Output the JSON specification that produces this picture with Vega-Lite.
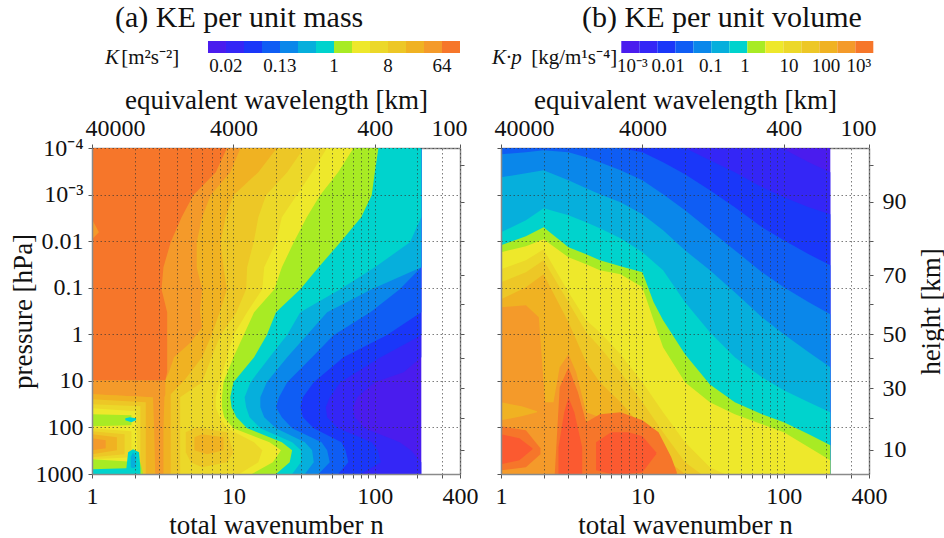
{
  "$schema": "https://vega.github.io/schema/vega-lite/v6.json",
  "background": "white",
  "padding": {"left": 8, "top": 3, "right": 0, "bottom": 0},
  "config": {
    "font": "Liberation Serif",
    "view": {"stroke": "#8a8a8a", "strokeWidth": 1},
    "axis": {"labelFont": "Liberation Serif", "titleFont": "Liberation Serif", "labelColor": "#111", "titleColor": "#111", "titleFontWeight": "normal", "labelFontSize": 24, "titleFontSize": 27, "domainColor": "#8a8a8a", "domainWidth": 1.5, "tickColor": "#555", "tickSize": 4, "gridColor": "#333", "gridDash": [1.5, 2.5], "gridWidth": 0.8, "gridOpacity": 0.8, "labelOverlap": false, "labelFlush": false},
    "title": {"font": "Liberation Serif", "fontSize": 30, "fontWeight": "normal", "color": "#111"},
    "text": {"font": "Liberation Serif", "color": "#111"}
  },
  "datasets": {
    "bars": [
      {"i":0,"j":1,"k":0},{"i":1,"j":2,"k":1},{"i":2,"j":3,"k":2},{"i":3,"j":4,"k":3},{"i":4,"j":5,"k":4},{"i":5,"j":6,"k":5},{"i":6,"j":7,"k":6},
      {"i":7,"j":8,"k":7},{"i":8,"j":9,"k":8},{"i":9,"j":10,"k":9},{"i":10,"j":11,"k":10},{"i":11,"j":12,"k":11},{"i":12,"j":13,"k":12},{"i":13,"j":14,"k":13}
    ],
    "labA": [{"x":1,"t":"0.02"},{"x":4,"t":"0.13"},{"x":7,"t":"1"},{"x":10,"t":"8"},{"x":13,"t":"64"}],
    "labB": [{"x":0.62,"t":"10⁻³"},{"x":2.6,"t":"0.01"},{"x":4.98,"t":"0.1"},{"x":6.87,"t":"1"},{"x":9.32,"t":"10"},{"x":11.37,"t":"100"},{"x":13.2,"t":"10³"}],
    "L1": [
      {"g":"L00","k":0,"p":0.0001,"a":1,"b":213},{"g":"L00","k":0,"p":1000,"a":1,"b":213},
      {"g":"L01","k":1,"p":0.0001,"a":1,"b":213},{"g":"L01","k":1,"p":3.12,"a":1,"b":213},{"g":"L01","k":1,"p":6.55,"a":1,"b":160},{"g":"L01","k":1,"p":10.7,"a":1,"b":100},{"g":"L01","k":1,"p":22.5,"a":1,"b":75},{"g":"L01","k":1,"p":37,"a":1,"b":70},{"g":"L01","k":1,"p":60.6,"a":1,"b":72},{"g":"L01","k":1,"p":104,"a":1,"b":85},{"g":"L01","k":1,"p":208,"a":1,"b":150},{"g":"L01","k":1,"p":310,"a":1,"b":180},{"g":"L01","k":1,"p":561,"a":1,"b":213},{"g":"L01","k":1,"p":1000,"a":1,"b":213},
      {"g":"L02","k":2,"p":0.0001,"a":1,"b":213},{"g":"L02","k":2,"p":1.05,"a":1,"b":213},{"g":"L02","k":2,"p":3.12,"a":1,"b":110},{"g":"L02","k":2,"p":10.7,"a":1,"b":57},{"g":"L02","k":2,"p":22.5,"a":1,"b":48},{"g":"L02","k":2,"p":37,"a":1,"b":45},{"g":"L02","k":2,"p":60.6,"a":1,"b":46},{"g":"L02","k":2,"p":104,"a":1,"b":55},{"g":"L02","k":2,"p":208,"a":1,"b":95},{"g":"L02","k":2,"p":310,"a":1,"b":105},{"g":"L02","k":2,"p":561,"a":1,"b":110},{"g":"L02","k":2,"p":1000,"a":1,"b":80},
      {"g":"L03","k":3,"p":0.0001,"a":1,"b":213},{"g":"L03","k":3,"p":0.337,"a":1,"b":213},{"g":"L03","k":3,"p":1.05,"a":1,"b":121},{"g":"L03","k":3,"p":3.12,"a":1,"b":60},{"g":"L03","k":3,"p":10.7,"a":1,"b":37},{"g":"L03","k":3,"p":22.5,"a":1,"b":31},{"g":"L03","k":3,"p":37,"a":1,"b":29.7},{"g":"L03","k":3,"p":60.6,"a":1,"b":31},{"g":"L03","k":3,"p":104,"a":1,"b":37},{"g":"L03","k":3,"p":208,"a":1,"b":58},{"g":"L03","k":3,"p":310,"a":1,"b":62},{"g":"L03","k":3,"p":561,"a":1,"b":65},{"g":"L03","k":3,"p":1000,"a":1,"b":55},
      {"g":"L04","k":4,"p":0.0001,"a":1,"b":213},{"g":"L04","k":4,"p":0.0364,"a":1,"b":213},{"g":"L04","k":4,"p":0.108,"a":1,"b":150},{"g":"L04","k":4,"p":0.337,"a":1,"b":93},{"g":"L04","k":4,"p":1.05,"a":1,"b":51},{"g":"L04","k":4,"p":3.12,"a":1,"b":36},{"g":"L04","k":4,"p":10.7,"a":1,"b":24},{"g":"L04","k":4,"p":22.5,"a":1,"b":21},{"g":"L04","k":4,"p":37,"a":1,"b":20},{"g":"L04","k":4,"p":60.6,"a":1,"b":22},{"g":"L04","k":4,"p":104,"a":1,"b":26},{"g":"L04","k":4,"p":208,"a":1,"b":42},{"g":"L04","k":4,"p":310,"a":1,"b":46},{"g":"L04","k":4,"p":561,"a":1,"b":48},{"g":"L04","k":4,"p":1000,"a":1,"b":40},
      {"g":"L05","k":5,"p":0.0001,"a":1,"b":213},{"g":"L05","k":5,"p":0.0364,"a":1,"b":213},{"g":"L05","k":5,"p":0.108,"a":1,"b":95},{"g":"L05","k":5,"p":0.337,"a":1,"b":46},{"g":"L05","k":5,"p":1.05,"a":1,"b":33},{"g":"L05","k":5,"p":3.12,"a":1,"b":24},{"g":"L05","k":5,"p":10.7,"a":1,"b":17.2},{"g":"L05","k":5,"p":22.5,"a":1,"b":15.5},{"g":"L05","k":5,"p":37,"a":1,"b":15.5},{"g":"L05","k":5,"p":60.6,"a":1,"b":16.5},{"g":"L05","k":5,"p":104,"a":1,"b":20},{"g":"L05","k":5,"p":208,"a":1,"b":32},{"g":"L05","k":5,"p":310,"a":1,"b":36},{"g":"L05","k":5,"p":561,"a":1,"b":37},{"g":"L05","k":5,"p":1000,"a":1,"b":32},
      {"g":"L06","k":6,"p":0.0001,"a":1,"b":213},{"g":"L06","k":6,"p":0.00307,"a":1,"b":213},{"g":"L06","k":6,"p":0.0106,"a":1,"b":177},{"g":"L06","k":6,"p":0.0364,"a":1,"b":100},{"g":"L06","k":6,"p":0.108,"a":1,"b":57},{"g":"L06","k":6,"p":0.337,"a":1,"b":29.7},{"g":"L06","k":6,"p":1.05,"a":1,"b":23.9},{"g":"L06","k":6,"p":3.12,"a":1,"b":18},{"g":"L06","k":6,"p":10.7,"a":1,"b":13.2},{"g":"L06","k":6,"p":22.5,"a":1,"b":12},{"g":"L06","k":6,"p":37,"a":1,"b":12.3},{"g":"L06","k":6,"p":60.6,"a":1,"b":13},{"g":"L06","k":6,"p":104,"a":1,"b":15.5},{"g":"L06","k":6,"p":208,"a":1,"b":26},{"g":"L06","k":6,"p":310,"a":1,"b":30},{"g":"L06","k":6,"p":561,"a":1,"b":30},{"g":"L06","k":6,"p":1000,"a":1,"b":26},
      {"g":"L07","k":7,"p":0.0001,"a":1,"b":106},{"g":"L07","k":7,"p":0.00033,"a":1,"b":100},{"g":"L07","k":7,"p":0.00104,"a":1,"b":95},{"g":"L07","k":7,"p":0.00307,"a":1,"b":80},{"g":"L07","k":7,"p":0.0106,"a":1,"b":57},{"g":"L07","k":7,"p":0.0364,"a":1,"b":40},{"g":"L07","k":7,"p":0.108,"a":1,"b":29.7},{"g":"L07","k":7,"p":0.337,"a":1,"b":20},{"g":"L07","k":7,"p":1.05,"a":1,"b":17.2},{"g":"L07","k":7,"p":3.12,"a":1,"b":14},{"g":"L07","k":7,"p":10.7,"a":1,"b":10},{"g":"L07","k":7,"p":22.5,"a":1,"b":9.5},{"g":"L07","k":7,"p":37,"a":1,"b":9.7},{"g":"L07","k":7,"p":60.6,"a":1,"b":10.5},{"g":"L07","k":7,"p":104,"a":1,"b":12.5},{"g":"L07","k":7,"p":208,"a":1,"b":22},{"g":"L07","k":7,"p":310,"a":1,"b":26},{"g":"L07","k":7,"p":561,"a":1,"b":25},{"g":"L07","k":7,"p":1000,"a":1,"b":20},
      {"g":"L08","k":8,"p":0.0001,"a":1,"b":70.7},{"g":"L08","k":8,"p":0.00033,"a":1,"b":55},{"g":"L08","k":8,"p":0.00104,"a":1,"b":41},{"g":"L08","k":8,"p":0.00307,"a":1,"b":33},{"g":"L08","k":8,"p":0.0106,"a":1,"b":26.7},{"g":"L08","k":8,"p":0.0364,"a":1,"b":22},{"g":"L08","k":8,"p":0.108,"a":1,"b":19.5},{"g":"L08","k":8,"p":0.337,"a":1,"b":14},{"g":"L08","k":8,"p":1.05,"a":1,"b":11.8},{"g":"L08","k":8,"p":3.12,"a":1,"b":10},{"g":"L08","k":8,"p":10.7,"a":1,"b":8.5},{"g":"L08","k":8,"p":22.5,"a":1,"b":8.3},{"g":"L08","k":8,"p":37,"a":1,"b":8.3},{"g":"L08","k":8,"p":60.6,"a":1,"b":8.6},{"g":"L08","k":8,"p":104,"a":1,"b":10},{"g":"L08","k":8,"p":208,"a":1,"b":18},{"g":"L08","k":8,"p":310,"a":1,"b":21.7},{"g":"L08","k":8,"p":561,"a":1,"b":19},{"g":"L08","k":8,"p":1000,"a":1,"b":13.5},
      {"g":"L09","k":9,"p":0.0001,"a":1,"b":45.8},{"g":"L09","k":9,"p":0.00033,"a":1,"b":36},{"g":"L09","k":9,"p":0.00104,"a":1,"b":28},{"g":"L09","k":9,"p":0.00307,"a":1,"b":22},{"g":"L09","k":9,"p":0.0106,"a":1,"b":20},{"g":"L09","k":9,"p":0.0364,"a":1,"b":16.5},{"g":"L09","k":9,"p":0.108,"a":1,"b":16},{"g":"L09","k":9,"p":0.337,"a":1,"b":12.5},{"g":"L09","k":9,"p":1.05,"a":1,"b":10},{"g":"L09","k":9,"p":3.12,"a":1,"b":9},{"g":"L09","k":9,"p":10.7,"a":1,"b":8},{"g":"L09","k":9,"p":22.5,"a":1,"b":7.5},{"g":"L09","k":9,"p":37,"a":1,"b":7.5},{"g":"L09","k":9,"p":60.6,"a":1,"b":8},{"g":"L09","k":9,"p":104,"a":1,"b":9},{"g":"L09","k":9,"p":208,"a":1,"b":14},{"g":"L09","k":9,"p":310,"a":1,"b":16},{"g":"L09","k":9,"p":561,"a":1,"b":15},{"g":"L09","k":9,"p":1000,"a":1,"b":11},
      {"g":"L10","k":10,"p":0.0001,"a":1,"b":31.5},{"g":"L10","k":10,"p":0.00033,"a":1,"b":24},{"g":"L10","k":10,"p":0.00104,"a":1,"b":17},{"g":"L10","k":10,"p":0.00307,"a":1,"b":15},{"g":"L10","k":10,"p":0.0106,"a":1,"b":13.9},{"g":"L10","k":10,"p":0.0364,"a":1,"b":12.5},{"g":"L10","k":10,"p":0.108,"a":1,"b":12.3},{"g":"L10","k":10,"p":0.337,"a":1,"b":10.5},{"g":"L10","k":10,"p":1.05,"a":1,"b":8.1},{"g":"L10","k":10,"p":3.12,"a":1,"b":7},{"g":"L10","k":10,"p":10.7,"a":1,"b":6},{"g":"L10","k":10,"p":22.5,"a":1,"b":4.2},{"g":"L10","k":10,"p":1000,"a":1,"b":4.2},
      {"g":"L11","k":11,"p":0.0001,"a":1,"b":20.3},{"g":"L11","k":11,"p":0.00033,"a":1,"b":15},{"g":"L11","k":11,"p":0.00104,"a":1,"b":10},{"g":"L11","k":11,"p":0.00307,"a":1,"b":8.8},{"g":"L11","k":11,"p":0.0106,"a":1,"b":8.1},{"g":"L11","k":11,"p":0.0364,"a":1,"b":8.5},{"g":"L11","k":11,"p":0.108,"a":1,"b":9},{"g":"L11","k":11,"p":0.337,"a":1,"b":8},{"g":"L11","k":11,"p":1.05,"a":1,"b":7},{"g":"L11","k":11,"p":3.12,"a":1,"b":6},{"g":"L11","k":11,"p":9.72,"a":1,"b":4.5},{"g":"L11","k":11,"p":19.4,"a":1,"b":3.6},{"g":"L11","k":11,"p":1000,"a":1,"b":3.6},
      {"g":"L12","k":12,"p":0.0001,"a":1,"b":11.2},{"g":"L12","k":12,"p":0.00033,"a":1,"b":9.5},{"g":"L12","k":12,"p":0.00104,"a":1,"b":6.9},{"g":"L12","k":12,"p":0.00307,"a":1,"b":6},{"g":"L12","k":12,"p":0.0106,"a":1,"b":5.5},{"g":"L12","k":12,"p":0.0364,"a":1,"b":5.5},{"g":"L12","k":12,"p":0.108,"a":1,"b":6},{"g":"L12","k":12,"p":0.337,"a":1,"b":5.8},{"g":"L12","k":12,"p":0.708,"a":1,"b":6},{"g":"L12","k":12,"p":1.49,"a":1,"b":5},{"g":"L12","k":12,"p":3.12,"a":1,"b":3.8},{"g":"L12","k":12,"p":6.55,"a":1,"b":3.5},{"g":"L12","k":12,"p":9.72,"a":1,"b":3.3},{"g":"L12","k":12,"p":19.4,"a":1,"b":3.3},{"g":"L12","k":12,"p":22.5,"a":2.7,"b":3.25},{"g":"L12","k":12,"p":104,"a":2.75,"b":3.2},{"g":"L12","k":12,"p":1000,"a":2.8,"b":3.2},
      {"g":"L13","k":13,"p":0.0001,"a":1,"b":9},{"g":"L13","k":13,"p":0.00033,"a":1,"b":7.5},{"g":"L13","k":13,"p":0.00104,"a":1,"b":5.2},{"g":"L13","k":13,"p":0.00307,"a":1,"b":4.3},{"g":"L13","k":13,"p":0.0106,"a":1,"b":3.6},{"g":"L13","k":13,"p":0.0364,"a":1,"b":3.2},{"g":"L13","k":13,"p":0.108,"a":1,"b":3.1},{"g":"L13","k":13,"p":0.337,"a":1,"b":3.4},{"g":"L13","k":13,"p":1.05,"a":1,"b":3.4},{"g":"L13","k":13,"p":3.12,"a":1,"b":3.4},{"g":"L13","k":13,"p":6.55,"a":1,"b":3.4},{"g":"L13","k":13,"p":9.72,"a":1,"b":3.3}
    ],
    "L2": [
      {"g":"L20","k":12,"p":0.0034,"a":1,"b":1},{"g":"L20","k":12,"p":0.00645,"a":1,"b":1.12},{"g":"L20","k":12,"p":0.0091,"a":1,"b":1},
      {"g":"L21","k":11,"p":19.4,"a":1,"b":1},{"g":"L21","k":11,"p":22.5,"a":1,"b":2.6},{"g":"L21","k":11,"p":1000,"a":1,"b":2.6},
      {"g":"L22","k":10,"p":24.9,"a":1,"b":1},{"g":"L22","k":10,"p":28.8,"a":1,"b":2.4},{"g":"L22","k":10,"p":1000,"a":1,"b":2.4},
      {"g":"L23","k":9,"p":31.8,"a":1,"b":1},{"g":"L23","k":9,"p":35.2,"a":1,"b":2.2},{"g":"L23","k":9,"p":1000,"a":1,"b":2.2},
      {"g":"L24","k":8,"p":38.8,"a":1,"b":1},{"g":"L24","k":8,"p":45,"a":1,"b":2.05},{"g":"L24","k":8,"p":1000,"a":1,"b":2.1},
      {"g":"L25","k":7,"p":52.2,"a":1,"b":1},{"g":"L25","k":7,"p":54.8,"a":1,"b":1.9},{"g":"L25","k":7,"p":90,"a":1,"b":1.9},{"g":"L25","k":7,"p":94.6,"a":1,"b":1},
      {"g":"L26","k":9,"p":104,"a":1,"b":1},{"g":"L26","k":9,"p":121,"a":1,"b":1.9},{"g":"L26","k":9,"p":438,"a":1,"b":1.9},{"g":"L26","k":9,"p":483,"a":1,"b":1},
      {"g":"L27","k":10,"p":121,"a":1,"b":1},{"g":"L27","k":10,"p":140,"a":1,"b":1.7},{"g":"L27","k":10,"p":377,"a":1,"b":1.7},{"g":"L27","k":10,"p":438,"a":1,"b":1},
      {"g":"L28","k":11,"p":140,"a":1,"b":1},{"g":"L28","k":11,"p":163,"a":1,"b":1.5},{"g":"L28","k":11,"p":310,"a":1,"b":1.5},{"g":"L28","k":11,"p":377,"a":1,"b":1},
      {"g":"L29","k":12,"p":171,"a":1,"b":1},{"g":"L29","k":12,"p":189,"a":1,"b":1.25},{"g":"L29","k":12,"p":280,"a":1,"b":1.25},{"g":"L29","k":12,"p":310,"a":1,"b":1},
      {"g":"L30","k":7,"p":483,"a":1,"b":1},{"g":"L30","k":7,"p":561,"a":1,"b":2.2},{"g":"L30","k":7,"p":1000,"a":1,"b":2.3},
      {"g":"L31","k":6,"p":294,"a":1.95,"b":1.95},{"g":"L31","k":6,"p":342,"a":1.8,"b":2.15},{"g":"L31","k":6,"p":754,"a":1.75,"b":2.2},{"g":"L31","k":6,"p":792,"a":1,"b":2.2},{"g":"L31","k":6,"p":1000,"a":1,"b":2.2},
      {"g":"L32","k":6,"p":60.6,"a":1.85,"b":1.85},{"g":"L32","k":6,"p":63.6,"a":1.72,"b":2.05},{"g":"L32","k":6,"p":70.3,"a":1.72,"b":2.05},{"g":"L32","k":6,"p":77.6,"a":1.9,"b":1.9},
      {"g":"L33","k":5,"p":342,"a":1.95,"b":1.95},{"g":"L33","k":5,"p":438,"a":1.88,"b":2.05},{"g":"L33","k":5,"p":718,"a":1.88,"b":2.05},{"g":"L33","k":5,"p":754,"a":1.95,"b":1.95},
      {"g":"L34","k":10,"p":99,"a":5.5,"b":5.5},{"g":"L34","k":10,"p":127,"a":4.6,"b":9},{"g":"L34","k":10,"p":342,"a":4.6,"b":10},{"g":"L34","k":10,"p":561,"a":5,"b":9},{"g":"L34","k":10,"p":718,"a":6,"b":6},
      {"g":"L35","k":11,"p":140,"a":6,"b":6},{"g":"L35","k":11,"p":163,"a":5.3,"b":8.5},{"g":"L35","k":11,"p":310,"a":5.3,"b":8.5},{"g":"L35","k":11,"p":377,"a":6.5,"b":6.5}
    ],
    "R1": [
      {"g":"R00","k":0,"n":1,"t":0.0001,"u":1000},{"g":"R00","k":0,"n":213,"t":0.0001,"u":1000},
      {"g":"R01","k":1,"n":1,"t":0.0001,"u":1000},{"g":"R01","k":1,"n":100,"t":0.0001,"u":1000},{"g":"R01","k":1,"n":110,"t":0.000124,"u":1000},{"g":"R01","k":1,"n":150,"t":0.000203,"u":1000},{"g":"R01","k":1,"n":213,"t":0.00033,"u":1000},
      {"g":"R02","k":2,"n":1,"t":0.0001,"u":1000},{"g":"R02","k":2,"n":20,"t":0.0001,"u":1000},{"g":"R02","k":2,"n":30,"t":0.000184,"u":1000},{"g":"R02","k":2,"n":45,"t":0.00033,"u":1000},{"g":"R02","k":2,"n":70,"t":0.000697,"u":1000},{"g":"R02","k":2,"n":100,"t":0.00114,"u":1000},{"g":"R02","k":2,"n":150,"t":0.00187,"u":1000},{"g":"R02","k":2,"n":213,"t":0.00265,"u":1000},
      {"g":"R03","k":3,"n":1,"t":0.0001,"u":1000},{"g":"R03","k":3,"n":7,"t":0.0001,"u":1000},{"g":"R03","k":3,"n":10,"t":0.000124,"u":1000},{"g":"R03","k":3,"n":14,"t":0.000203,"u":1000},{"g":"R03","k":3,"n":20,"t":0.000366,"u":1000},{"g":"R03","k":3,"n":30,"t":0.000809,"u":1000},{"g":"R03","k":3,"n":45,"t":0.00187,"u":1000},{"g":"R03","k":3,"n":70,"t":0.00504,"u":1000},{"g":"R03","k":3,"n":100,"t":0.00959,"u":1000},{"g":"R03","k":3,"n":150,"t":0.0191,"u":1000},{"g":"R03","k":3,"n":213,"t":0.033,"u":1000},
      {"g":"R04","k":4,"n":1,"t":0.000136,"u":1000},{"g":"R04","k":4,"n":1.5,"t":0.000124,"u":1000},{"g":"R04","k":4,"n":2,"t":0.000112,"u":1000},{"g":"R04","k":4,"n":3,"t":0.000124,"u":1000},{"g":"R04","k":4,"n":4,"t":0.000158,"u":1000},{"g":"R04","k":4,"n":5,"t":0.000203,"u":1000},{"g":"R04","k":4,"n":7,"t":0.0003,"u":1000},{"g":"R04","k":4,"n":10,"t":0.000493,"u":1000},{"g":"R04","k":4,"n":14,"t":0.000986,"u":1000},{"g":"R04","k":4,"n":20,"t":0.00217,"u":1000},{"g":"R04","k":4,"n":30,"t":0.00585,"u":1000},{"g":"R04","k":4,"n":45,"t":0.0157,"u":1000},{"g":"R04","k":4,"n":70,"t":0.0467,"u":1000},{"g":"R04","k":4,"n":100,"t":0.098,"u":1000},{"g":"R04","k":4,"n":150,"t":0.206,"u":1000},{"g":"R04","k":4,"n":213,"t":0.372,"u":1000},
      {"g":"R05","k":5,"n":1,"t":0.000425,"u":1000},{"g":"R05","k":5,"n":1.5,"t":0.000349,"u":1000},{"g":"R05","k":5,"n":2,"t":0.0003,"u":1000},{"g":"R05","k":5,"n":3,"t":0.000493,"u":1000},{"g":"R05","k":5,"n":4,"t":0.00073,"u":1000},{"g":"R05","k":5,"n":5,"t":0.000986,"u":1000},{"g":"R05","k":5,"n":7,"t":0.00146,"u":1000},{"g":"R05","k":5,"n":10,"t":0.00265,"u":1000},{"g":"R05","k":5,"n":14,"t":0.00585,"u":1000},{"g":"R05","k":5,"n":20,"t":0.0157,"u":1000},{"g":"R05","k":5,"n":30,"t":0.0423,"u":1000},{"g":"R05","k":5,"n":45,"t":0.125,"u":1000},{"g":"R05","k":5,"n":70,"t":0.432,"u":1000},{"g":"R05","k":5,"n":100,"t":1,"u":1000},{"g":"R05","k":5,"n":150,"t":2.44,"u":1000},{"g":"R05","k":5,"n":213,"t":5.11,"u":1000},
      {"g":"R06","k":6,"n":1,"t":0.00645,"u":1000},{"g":"R06","k":6,"n":1.5,"t":0.00356,"u":1000},{"g":"R06","k":6,"n":2,"t":0.00197,"u":1000},{"g":"R06","k":6,"n":3,"t":0.00278,"u":1000},{"g":"R06","k":6,"n":4,"t":0.00394,"u":1000},{"g":"R06","k":6,"n":5,"t":0.00529,"u":1000},{"g":"R06","k":6,"n":7,"t":0.00869,"u":1000},{"g":"R06","k":6,"n":10,"t":0.0173,"u":1000},{"g":"R06","k":6,"n":14,"t":0.0423,"u":1000},{"g":"R06","k":6,"n":20,"t":0.206,"u":1000},{"g":"R06","k":6,"n":30,"t":0.906,"u":1000},{"g":"R06","k":6,"n":45,"t":3.12,"u":1000},{"g":"R06","k":6,"n":70,"t":8.38,"u":1000},{"g":"R06","k":6,"n":100,"t":15.9,"u":1000},{"g":"R06","k":6,"n":150,"t":28.8,"u":1000},{"g":"R06","k":6,"n":213,"t":47.3,"u":1000},
      {"g":"R07","k":7,"n":1,"t":0.0123,"u":1000},{"g":"R07","k":7,"n":1.5,"t":0.00787,"u":1000},{"g":"R07","k":7,"n":2,"t":0.00504,"u":1000},{"g":"R07","k":7,"n":3,"t":0.0135,"u":1000},{"g":"R07","k":7,"n":4,"t":0.0191,"u":1000},{"g":"R07","k":7,"n":5,"t":0.0258,"u":1000},{"g":"R07","k":7,"n":7,"t":0.0347,"u":1000},{"g":"R07","k":7,"n":10,"t":0.0467,"u":1000},{"g":"R07","k":7,"n":12,"t":0.206,"u":1000},{"g":"R07","k":7,"n":14,"t":0.5,"u":1000},{"g":"R07","k":7,"n":20,"t":2.69,"u":1000},{"g":"R07","k":7,"n":30,"t":11.9,"u":1000},{"g":"R07","k":7,"n":45,"t":28.8,"u":1000},{"g":"R07","k":7,"n":70,"t":52.2,"u":1000},{"g":"R07","k":7,"n":100,"t":77.6,"u":1000},{"g":"R07","k":7,"n":150,"t":140,"u":1000},{"g":"R07","k":7,"n":213,"t":242,"u":1000},
      {"g":"R08","k":8,"n":1,"t":0.0173,"u":1000},{"g":"R08","k":8,"n":1.5,"t":0.0129,"u":1000},{"g":"R08","k":8,"n":2,"t":0.00912,"u":1000},{"g":"R08","k":8,"n":3,"t":0.0222,"u":1000},{"g":"R08","k":8,"n":4,"t":0.0314,"u":1000},{"g":"R08","k":8,"n":5,"t":0.0423,"u":1000},{"g":"R08","k":8,"n":7,"t":0.0515,"u":1000},{"g":"R08","k":8,"n":10,"t":0.098,"u":1000},{"g":"R08","k":8,"n":12,"t":0.5,"u":1000},{"g":"R08","k":8,"n":14,"t":1.9,"u":1000},{"g":"R08","k":8,"n":20,"t":10.7,"u":1000},{"g":"R08","k":8,"n":30,"t":28.8,"u":1000},{"g":"R08","k":8,"n":45,"t":52.2,"u":1000},{"g":"R08","k":8,"n":70,"t":85.6,"u":1000},{"g":"R08","k":8,"n":100,"t":127,"u":1000},{"g":"R08","k":8,"n":150,"t":267,"u":1000},{"g":"R08","k":8,"n":213,"t":508,"u":1000},
      {"g":"R09","k":9,"n":1,"t":0.0402,"u":1000},{"g":"R09","k":9,"n":1.5,"t":0.0258,"u":1000},{"g":"R09","k":9,"n":2,"t":0.015,"u":1000},{"g":"R09","k":9,"n":3,"t":0.125,"u":1000},{"g":"R09","k":9,"n":4,"t":0.5,"u":1000},{"g":"R09","k":9,"n":5,"t":0.906,"u":1000},{"g":"R09","k":9,"n":7,"t":2.69,"u":1000},{"g":"R09","k":9,"n":10,"t":10.7,"u":1000},{"g":"R09","k":9,"n":14,"t":47.3,"u":1000},{"g":"R09","k":9,"n":20,"t":208,"u":1000},{"g":"R09","k":9,"n":30,"t":718,"u":1000},{"g":"R09","k":9,"n":38,"t":1000,"u":1000},
      {"g":"R10","k":10,"n":1,"t":0.0764,"u":1000},{"g":"R10","k":10,"n":1.5,"t":0.0467,"u":1000},{"g":"R10","k":10,"n":2,"t":0.0258,"u":1000},{"g":"R10","k":10,"n":3,"t":0.206,"u":1000},{"g":"R10","k":10,"n":4,"t":0.906,"u":1000},{"g":"R10","k":10,"n":5,"t":1.9,"u":1000},{"g":"R10","k":10,"n":7,"t":6.55,"u":1000},{"g":"R10","k":10,"n":10,"t":28.8,"u":1000},{"g":"R10","k":10,"n":14,"t":127,"u":1000},{"g":"R10","k":10,"n":20,"t":561,"u":1000},{"g":"R10","k":10,"n":26,"t":1000,"u":1000},
      {"g":"R11","k":11,"n":1,"t":0.177,"u":1000},{"g":"R11","k":11,"n":1.5,"t":0.098,"u":1000},{"g":"R11","k":11,"n":2,"t":0.0515,"u":1000},{"g":"R11","k":11,"n":3,"t":0.552,"u":1000},{"g":"R11","k":11,"n":4,"t":3.99,"u":1000},{"g":"R11","k":11,"n":5,"t":10.7,"u":1000},{"g":"R11","k":11,"n":7,"t":28.8,"u":1000},{"g":"R11","k":11,"n":10,"t":99,"u":1000},{"g":"R11","k":11,"n":14,"t":438,"u":1000},{"g":"R11","k":11,"n":20,"t":1000,"u":1000},
      {"g":"R12","k":12,"n":1,"t":0.263,"u":1000},{"g":"R12","k":12,"n":1.5,"t":0.238,"u":1000},{"g":"R12","k":12,"n":1.85,"t":0.432,"u":1000},{"g":"R12","k":12,"n":2.05,"t":28.8,"u":1000},{"g":"R12","k":12,"n":2.35,"t":28.8,"u":1000},{"g":"R12","k":12,"n":2.6,"t":5.11,"u":1000},{"g":"R12","k":12,"n":3,"t":2.69,"u":1000},{"g":"R12","k":12,"n":3.4,"t":6.55,"u":1000},{"g":"R12","k":12,"n":4,"t":47.3,"u":1000},{"g":"R12","k":12,"n":5,"t":60.6,"u":1000},{"g":"R12","k":12,"n":7,"t":60.6,"u":1000},{"g":"R12","k":12,"n":10,"t":77.6,"u":1000},{"g":"R12","k":12,"n":12,"t":127,"u":1000},{"g":"R12","k":12,"n":15,"t":438,"u":1000},{"g":"R12","k":12,"n":17.5,"t":1000,"u":1000}
    ],
    "R2": [
      {"g":"R20","k":11,"n":1,"t":28.8,"u":70.3},{"g":"R20","k":11,"n":1.4,"t":35.2,"u":57.7},{"g":"R20","k":11,"n":1.8,"t":45,"u":47.3},
      {"g":"R21","k":13,"n":1,"t":94.6,"u":832},{"g":"R21","k":13,"n":1.5,"t":115,"u":718},{"g":"R21","k":13,"n":1.9,"t":280,"u":377},
      {"g":"R22","k":13,"n":2.4,"t":1000,"u":1000},{"g":"R22","k":13,"n":2.6,"t":13.7,"u":1000},{"g":"R22","k":13,"n":3,"t":5.11,"u":1000},{"g":"R22","k":13,"n":3.5,"t":17.6,"u":1000},{"g":"R22","k":13,"n":4,"t":77.6,"u":1000},{"g":"R22","k":13,"n":5,"t":52.2,"u":1000},{"g":"R22","k":13,"n":7,"t":47.3,"u":1000},{"g":"R22","k":13,"n":10,"t":70.3,"u":1000},{"g":"R22","k":13,"n":13,"t":127,"u":1000},{"g":"R22","k":13,"n":16,"t":438,"u":1000},{"g":"R22","k":13,"n":17.5,"t":918,"u":1000},
      {"g":"R23","k":14,"n":1,"t":140,"u":619},{"g":"R23","k":14,"n":1.35,"t":171,"u":508},{"g":"R23","k":14,"n":1.67,"t":280,"u":294},
      {"g":"R24","k":14,"n":2.55,"t":267,"u":1000},{"g":"R24","k":14,"n":2.8,"t":47.3,"u":1000},{"g":"R24","k":14,"n":3,"t":22.5,"u":1000},{"g":"R24","k":14,"n":3.3,"t":47.3,"u":1000},{"g":"R24","k":14,"n":3.75,"t":267,"u":1000},
      {"g":"R25","k":14,"n":4.7,"t":208,"u":832},{"g":"R25","k":14,"n":6,"t":127,"u":1000},{"g":"R25","k":14,"n":8,"t":127,"u":1000},{"g":"R25","k":14,"n":10,"t":155,"u":918},{"g":"R25","k":14,"n":12.5,"t":342,"u":377}
    ]
  },
  "concat": [
    {
      "width": 368, "height": 12,
      "view": {"stroke": null},
      "title": {"text": "(a) KE per unit mass", "anchor": "start", "dx": 23, "offset": 8, "frame": "group"},
      "layer": [
        {"data": {"name": "bars"}, "mark": {"type": "rect"},
         "encoding": {"x": {"field": "i", "type": "quantitative", "scale": {"domain": [-6.444, 14], "nice": false, "zero": false}, "axis": null}, "x2": {"field": "j"},
           "color": {"field": "k", "type": "ordinal", "legend": null, "scale": {"domain": [0,1,2,3,4,5,6,7,8,9,10,11,12,13,14], "range": ["#4a1cee","#3426f6","#1a37f9","#0f5df4","#0a87ea","#06afdc","#00d3cd","#a8eb24","#eee82b","#ecd829","#edc726","#f0b222","#f49a2a","#f6762a","#fb5a30"]}}}},
        {"data": {"name": "labA"}, "mark": {"type": "text", "fontSize": 19, "baseline": "alphabetic", "align": "center", "dy": 25},
         "encoding": {"x": {"field": "x", "type": "quantitative", "scale": {"domain": [-6.444, 14], "nice": false, "zero": false}, "axis": null}, "text": {"field": "t"}}},
        {"data": {"values": [{"x": -5.72, "t": "K"}]}, "mark": {"type": "text", "fontSize": 21, "fontStyle": "italic", "baseline": "alphabetic", "align": "left", "dy": 17},
         "encoding": {"x": {"field": "x", "type": "quantitative", "scale": {"domain": [-6.444, 14], "nice": false, "zero": false}, "axis": null}, "text": {"field": "t"}}},
        {"data": {"values": [{"x": -4.82, "t": "[m²s⁻²]"}]}, "mark": {"type": "text", "fontSize": 21, "baseline": "alphabetic", "align": "left", "dy": 17},
         "encoding": {"x": {"field": "x", "type": "quantitative", "scale": {"domain": [-6.444, 14], "nice": false, "zero": false}, "axis": null}, "text": {"field": "t"}}}
      ]
    },
    {
      "width": 368, "height": 12,
      "view": {"stroke": null},
      "title": {"text": "(b) KE per unit volume", "anchor": "start", "dx": 81, "offset": 8, "frame": "group"},
      "layer": [
        {"data": {"name": "bars"}, "mark": {"type": "rect"},
         "encoding": {"x": {"field": "i", "type": "quantitative", "scale": {"domain": [-6.683, 13.761], "nice": false, "zero": false}, "axis": null}, "x2": {"field": "j"},
           "color": {"field": "k", "type": "ordinal", "legend": null, "scale": {"domain": [0,1,2,3,4,5,6,7,8,9,10,11,12,13,14], "range": ["#4a1cee","#3426f6","#1a37f9","#0f5df4","#0a87ea","#06afdc","#00d3cd","#a8eb24","#eee82b","#ecd829","#edc726","#f0b222","#f49a2a","#f6762a","#fb5a30"]}}}},
        {"data": {"name": "labB"}, "mark": {"type": "text", "fontSize": 19, "baseline": "alphabetic", "align": "center", "dy": 25},
         "encoding": {"x": {"field": "x", "type": "quantitative", "scale": {"domain": [-6.683, 13.761], "nice": false, "zero": false}, "axis": null}, "text": {"field": "t"}}},
        {"data": {"values": [{"x": -7.18, "t": "K·p"}]}, "mark": {"type": "text", "fontSize": 21, "fontStyle": "italic", "baseline": "alphabetic", "align": "left", "dy": 17},
         "encoding": {"x": {"field": "x", "type": "quantitative", "scale": {"domain": [-6.683, 13.761], "nice": false, "zero": false}, "axis": null}, "text": {"field": "t"}}},
        {"data": {"values": [{"x": -5.0, "t": "[kg/m¹s⁻⁴]"}]}, "mark": {"type": "text", "fontSize": 21, "baseline": "alphabetic", "align": "left", "dy": 17},
         "encoding": {"x": {"field": "x", "type": "quantitative", "scale": {"domain": [-6.683, 13.761], "nice": false, "zero": false}, "axis": null}, "text": {"field": "t"}}}
      ]
    },
    {
      "width": 368, "height": 326,
      "layer": [
        {"data": {"name": "L1"}, "mark": {"type": "area", "orient": "horizontal"},
         "encoding": {
           "y": {"field": "p", "type": "quantitative", "scale": {"type": "log", "domain": [0.0001, 1000], "reverse": true, "nice": false},
                 "axis": {"orient": "left", "values": [0.0001,0.001,0.01,0.1,1,10,100,1000], "labelExpr": "datum.value < 0.0005 ? '10⁻⁴' : datum.value < 0.005 ? '10⁻³' : datum.value < 0.05 ? '0.01' : datum.value < 0.5 ? '0.1' : datum.value < 5 ? '1' : datum.value < 50 ? '10' : datum.value < 500 ? '100' : '1000'", "grid": true, "zindex": 1, "title": "pressure [hPa]", "titleX": -61, "titleBaseline": "alphabetic", "labelPadding": 5}},
           "x": {"field": "a", "type": "quantitative", "stack": null, "scale": {"type": "log", "domain": [1, 400], "nice": false},
                 "axis": {"orient": "bottom", "values": [1,2,3,4,5,6,7,8,9,10,20,30,40,50,60,70,80,90,100,200,300,400], "labelExpr": "(datum.value == 1 || datum.value == 10 || datum.value == 100 || datum.value == 400) ? datum.value + '' : ''", "grid": true, "zindex": 1, "title": "total wavenumber n", "titleY": 59, "titleBaseline": "alphabetic", "labelPadding": 6}},
           "x2": {"field": "b"},
           "detail": {"field": "g", "type": "nominal"},
           "color": {"field": "k", "type": "ordinal", "legend": null, "scale": {"domain": [0,1,2,3,4,5,6,7,8,9,10,11,12,13,14], "range": ["#4a1cee","#3426f6","#1a37f9","#0f5df4","#0a87ea","#06afdc","#00d3cd","#a8eb24","#eee82b","#ecd829","#edc726","#f0b222","#f49a2a","#f6762a","#fb5a30"]}}
         }},
        {"data": {"name": "L2"}, "mark": {"type": "area", "orient": "horizontal"},
         "encoding": {
           "y": {"field": "p", "type": "quantitative", "scale": {"type": "log", "domain": [0.0001, 1000], "reverse": true, "nice": false},
                 "axis": {"orient": "right", "values": [305,63.6,14.4,3.23,0.986,0.227,0.0541,0.0101,0.00142,0.000235], "labels": false, "grid": false, "title": null}},
           "x": {"field": "a", "type": "quantitative", "stack": null, "scale": {"type": "log", "domain": [1, 400], "nice": false},
                 "axis": {"orient": "top", "values": [1,10,100,400], "labelExpr": "format(40000/datum.value, 'd')", "grid": false, "title": "equivalent wavelength [km]", "titleY": -40, "titleBaseline": "alphabetic", "labelPadding": 4, "labelFlush": true, "labelFlushOffset": 7}},
           "x2": {"field": "b"},
           "detail": {"field": "g", "type": "nominal"},
           "color": {"field": "k", "type": "ordinal", "legend": null, "scale": {"domain": [0,1,2,3,4,5,6,7,8,9,10,11,12,13,14], "range": ["#4a1cee","#3426f6","#1a37f9","#0f5df4","#0a87ea","#06afdc","#00d3cd","#a8eb24","#eee82b","#ecd829","#edc726","#f0b222","#f49a2a","#f6762a","#fb5a30"]}}
         }}
      ],
      "resolve": {"axis": {"x": "independent", "y": "independent"}}
    },
    {
      "width": 368, "height": 326,
      "layer": [
        {"data": {"name": "R1"}, "mark": {"type": "area", "orient": "vertical"},
         "encoding": {
           "x": {"field": "n", "type": "quantitative", "scale": {"type": "log", "domain": [1, 400], "nice": false},
                 "axis": {"orient": "bottom", "values": [1,2,3,4,5,6,7,8,9,10,20,30,40,50,60,70,80,90,100,200,300,400], "labelExpr": "(datum.value == 1 || datum.value == 10 || datum.value == 100 || datum.value == 400) ? datum.value + '' : ''", "grid": true, "zindex": 1, "title": "total wavenumber n", "titleY": 59, "titleBaseline": "alphabetic", "labelPadding": 6}},
           "y": {"field": "t", "type": "quantitative", "stack": null, "scale": {"type": "log", "domain": [0.0001, 1000], "reverse": true, "nice": false},
                 "axis": {"orient": "left", "values": [0.0001,0.001,0.01,0.1,1,10,100,1000], "labels": false, "grid": true, "zindex": 1, "title": null}},
           "y2": {"field": "u"},
           "detail": {"field": "g", "type": "nominal"},
           "color": {"field": "k", "type": "ordinal", "legend": null, "scale": {"domain": [0,1,2,3,4,5,6,7,8,9,10,11,12,13,14], "range": ["#4a1cee","#3426f6","#1a37f9","#0f5df4","#0a87ea","#06afdc","#00d3cd","#a8eb24","#eee82b","#ecd829","#edc726","#f0b222","#f49a2a","#f6762a","#fb5a30"]}}
         }},
        {"data": {"name": "R2"}, "mark": {"type": "area", "orient": "vertical"},
         "encoding": {
           "x": {"field": "n", "type": "quantitative", "scale": {"type": "log", "domain": [1, 400], "nice": false},
                 "axis": {"orient": "top", "values": [1,10,100,400], "labelExpr": "format(40000/datum.value, 'd')", "grid": false, "title": "equivalent wavelength [km]", "titleY": -40, "titleBaseline": "alphabetic", "labelPadding": 4, "labelFlush": true, "labelFlushOffset": 7}},
           "y": {"field": "t", "type": "quantitative", "stack": null, "scale": {"type": "log", "domain": [0.0001, 1000], "reverse": true, "nice": false},
                 "axis": {"orient": "right", "values": [305,63.6,14.4,3.23,0.986,0.227,0.0541,0.0101,0.00142,0.000235], "labelExpr": "datum.value > 200 ? '10' : (datum.value > 5 && datum.value < 50) ? '30' : (datum.value > 0.5 && datum.value < 2) ? '50' : (datum.value > 0.02 && datum.value < 0.1) ? '70' : (datum.value > 0.001 && datum.value < 0.003) ? '90' : ''", "grid": false, "title": "height [km]", "titleAngle": 270, "titleX": 70, "titleBaseline": "alphabetic", "labelPadding": 9}},
           "y2": {"field": "u"},
           "detail": {"field": "g", "type": "nominal"},
           "color": {"field": "k", "type": "ordinal", "legend": null, "scale": {"domain": [0,1,2,3,4,5,6,7,8,9,10,11,12,13,14], "range": ["#4a1cee","#3426f6","#1a37f9","#0f5df4","#0a87ea","#06afdc","#00d3cd","#a8eb24","#eee82b","#ecd829","#edc726","#f0b222","#f49a2a","#f6762a","#fb5a30"]}}
         }}
      ],
      "resolve": {"axis": {"x": "independent", "y": "independent"}}
    }
  ],
  "columns": 2,
  "spacing": {"row": 95, "column": 41},
  "bounds": "flush"
}
